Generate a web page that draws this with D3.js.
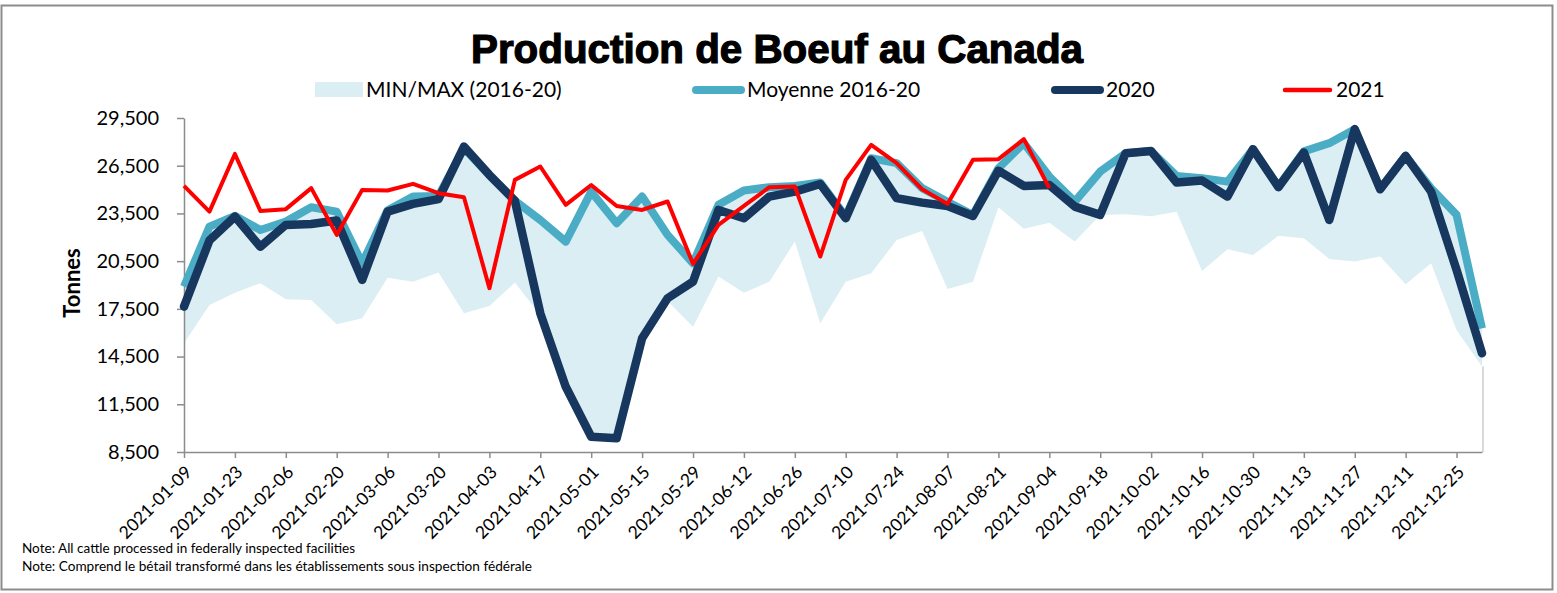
<!DOCTYPE html>
<html>
<head>
<meta charset="utf-8">
<script src="https://cdn.jsdelivr.net/npm/d3@7"></script>
<style>
  body { margin: 0; background: #fff; }
  svg { display: block; font-family: "Lato", "Open Sans", sans-serif; }
</style>
</head>
<body>
<svg id="chart" width="1557" height="593"></svg>
<script>
// weekly dates (week ending)
const dates = [
  "2021-01-09","2021-01-16","2021-01-23","2021-01-30","2021-02-06","2021-02-13","2021-02-20","2021-02-27",
  "2021-03-06","2021-03-13","2021-03-20","2021-03-27","2021-04-03","2021-04-10","2021-04-17","2021-04-24",
  "2021-05-01","2021-05-08","2021-05-15","2021-05-22","2021-05-29","2021-06-05","2021-06-12","2021-06-19",
  "2021-06-26","2021-07-03","2021-07-10","2021-07-17","2021-07-24","2021-07-31","2021-08-07","2021-08-14",
  "2021-08-21","2021-08-28","2021-09-04","2021-09-11","2021-09-18","2021-09-25","2021-10-02","2021-10-09",
  "2021-10-16","2021-10-23","2021-10-30","2021-11-06","2021-11-13","2021-11-20","2021-11-27","2021-12-04",
  "2021-12-11","2021-12-18","2021-12-25","2022-01-01"
];

// min / max 2016-20 (tonnes)
const minVals = [
  15340, 17750, 18520, 19110, 18100, 18060, 16530, 16910, 19460, 19210, 19780, 17220, 17680,
  19150, 17100, 12500, 9350, 9250, 15550, 18000, 16380, 19530, 18520, 19210, 21730, 16600,
  19210, 19740, 21830, 22400, 18750, 19210, 23890, 22530, 22920, 21730, 23400, 23450, 23320,
  23610, 19880, 21250, 20890, 22090, 21940, 20640, 20470, 20790, 19050, 20370, 16170, 13870
];
const maxVals = [
  19000, 22800, 23450, 22600, 23100, 24000, 23750, 20500, 23800, 24650, 24700, 27800, 26000,
  24400, 23200, 21850, 24950, 23000, 24650, 22250, 20450, 24150, 25050, 25250, 25350, 25550,
  23400, 27050, 26750, 25200, 24350, 23500, 26450, 28000, 25900, 24350, 26250, 27400, 27500,
  25950, 25800, 25600, 27650, 25300, 27450, 28000, 28900, 25150, 27200, 25200, 23500, 16350
];
// moyenne 2016-20
const avgVals = [
  18900, 22670, 23350, 22460, 22990, 23890, 23610, 20370, 23700, 24560, 24600, 27600, 25900,
  24300, 23090, 21730, 24870, 22880, 24560, 22150, 20370, 24040, 24940, 25150, 25230, 25450,
  23300, 26970, 26660, 25090, 24240, 23400, 26340, 27920, 25820, 24240, 26130, 27290, 27420,
  25860, 25720, 25500, 27540, 25200, 27400, 27920, 28800, 25050, 27120, 25090, 23410, 16280
];
const vals2020 = [
  17640, 21800, 23300, 21400, 22780, 22840, 23050, 19320, 23615, 24100, 24400, 27700, 25920,
  24300, 17220, 12600, 9460, 9360, 15650, 18170, 19210, 23720, 23200, 24560, 24870, 25350,
  23200, 26870, 24460, 24180, 23970, 23340, 26190, 25230, 25290, 23930, 23410, 27290, 27420,
  25440, 25570, 24560, 27540, 25150, 27330, 23090, 28800, 25020, 27120, 24870, 19950, 14710
];
const vals2021 = [
  25230, 23610, 27240, 23660, 23770, 25090, 22150, 24980, 24940, 25360, 24770, 24520, 18800,
  25610, 26450, 24040, 25290, 23970, 23720, 24250, 20330, 22780, 23970, 25150, 25190, 20790,
  25610, 27810, 26660, 25020, 24100, 26870, 26910, 28170, 25090
];

const yTicks = [8500, 11500, 14500, 17500, 20500, 23500, 26500, 29500];

const svg = d3.select("#chart");

// outer frame
svg.append("rect")
  .attr("x", 1.5).attr("y", 5.5)
  .attr("width", 1551).attr("height", 584)
  .attr("fill", "#fff")
  .attr("stroke", "#8c8c8c")
  .attr("stroke-width", 2);

const x = d3.scalePoint().domain(dates).range([184, 1482]);
const y = d3.scaleLinear().domain([8500, 29500]).range([452, 118]);

const band = dates.map((d, i) => ({ date: d, lo: minVals[i], hi: maxVals[i] }));

//band
svg.append("path")
  .datum(band)
  .attr("fill", "#daeef3")
  .attr("d", d3.area().x(d => x(d.date)).y0(d => y(d.lo)).y1(d => y(d.hi)));

//little shadow on the right side of the min area
svg.append("line")
  .attr("x1", x(dates[dates.length - 1]) + 1).attr("x2", x(dates[dates.length - 1]) + 1)
  .attr("y1", y(minVals[minVals.length - 1])).attr("y2", y(8500))
  .attr("stroke", "#d9d9d9").attr("stroke-width", 2);

//axes
const yAxis = svg.append("g")
  .attr("transform", `translate(${x.range()[0]},0)`)
  .call(d3.axisLeft(y).tickValues(yTicks).tickFormat(d3.format(",")).tickSize(7).tickSizeOuter(0).tickPadding(18));

const xAxis = svg.append("g")
  .attr("transform", `translate(0,${y(8500)})`)
  .call(d3.axisBottom(x).tickValues(dates.filter((d, i) => i % 2 === 0)).tickSize(6).tickSizeOuter(0));

[yAxis, xAxis].forEach(a => {
  a.select(".domain").attr("stroke", "#8c8c8c").attr("stroke-width", 1.5);
  a.selectAll(".tick line").attr("stroke", "#8c8c8c").attr("stroke-width", 1.5);
});

yAxis.selectAll("text")
  .attr("font-size", 20)
  .attr("font-family", "Lato, sans-serif")
  .attr("fill", "#000");

xAxis.selectAll("text")
  .attr("x", 0).attr("y", 0).attr("dy", "0.35em")
  .attr("transform", "translate(4,17) rotate(-45)")
  .attr("text-anchor", "end")
  .attr("font-size", 17.5)
  .attr("font-family", "Lato, sans-serif")
  .attr("fill", "#000");

// y label
svg.append("text")
  .attr("transform", "translate(80,283) rotate(-90)")
  .attr("text-anchor", "middle")
  .attr("font-size", 22)
  .attr("font-weight", "bold")
  .text("Tonnes");

//lines
const line = d3.line().x((d, i) => x(dates[i])).y(d => y(d));

svg.append("path")
  .datum(avgVals)
  .attr("fill", "none")
  .attr("stroke", "#4bacc6")
  .attr("stroke-width", 8)
  .attr("stroke-linejoin", "round")
  .attr("d", line);

svg.append("path")
  .datum(vals2020)
  .attr("fill", "none")
  .attr("stroke", "#17375e")
  .attr("stroke-width", 8.5)
  .attr("stroke-linejoin", "round")
  .attr("stroke-linecap", "round")
  .attr("d", line);

svg.append("path")
  .datum(vals2021)
  .attr("fill", "none")
  .attr("stroke", "#ff0000")
  .attr("stroke-width", 4)
  .attr("stroke-linejoin", "round")
  .attr("d", line);

//title
svg.append("text")
  .attr("x", 777).attr("y", 63)
  .attr("text-anchor", "middle")
  .attr("font-family", "'Liberation Sans', Arial, sans-serif")
  .attr("font-size", 40)
  .attr("font-weight", "bold")
  .attr("stroke", "#000")
  .attr("stroke-width", 1.2)
  .attr("textLength", 612)
  .attr("lengthAdjust", "spacingAndGlyphs")
  .text("Production de Boeuf au Canada");

//legend
const legendItems = [
  { label: "MIN/MAX (2016-20)", kind: "rect", color: "#daeef3", x: 315, w: 0 },
  { label: "Moyenne 2016-20", kind: "line", color: "#4bacc6", x: 696, w: 8 },
  { label: "2020", kind: "line", color: "#17375e", x: 1055, w: 8 },
  { label: "2021", kind: "line", color: "#ff0000", x: 1285, w: 4.5 }
];

const legend = svg.append("g").attr("class", "legend");
legendItems.forEach(d => {
  if (d.kind === "rect") {
    legend.append("rect")
      .attr("x", d.x).attr("y", 82)
      .attr("width", 48).attr("height", 15)
      .attr("fill", d.color);
  } else {
    legend.append("line")
      .attr("x1", d.x).attr("x2", d.x + 45)
      .attr("y1", 90).attr("y2", 90)
      .attr("stroke", d.color)
      .attr("stroke-width", d.w)
      .attr("stroke-linecap", "round");
  }
  legend.append("text")
    .attr("x", d.x + 51).attr("y", 97)
    .attr("font-size", 21)
    .attr("fill", "#000")
    .text(d.label);
});

//notes
svg.append("text")
  .attr("x", 22).attr("y", 553)
  .attr("font-size", 12.5)
  .attr("textLength", 333)
  .attr("lengthAdjust", "spacingAndGlyphs")
  .text("Note: All cattle processed in federally inspected facilities");

svg.append("text")
  .attr("x", 22).attr("y", 571)
  .attr("font-size", 12.5)
  .attr("textLength", 510)
  .attr("lengthAdjust", "spacingAndGlyphs")
  .text("Note: Comprend le bétail transformé dans les établissements sous inspection fédérale");
</script>
</body>
</html>
